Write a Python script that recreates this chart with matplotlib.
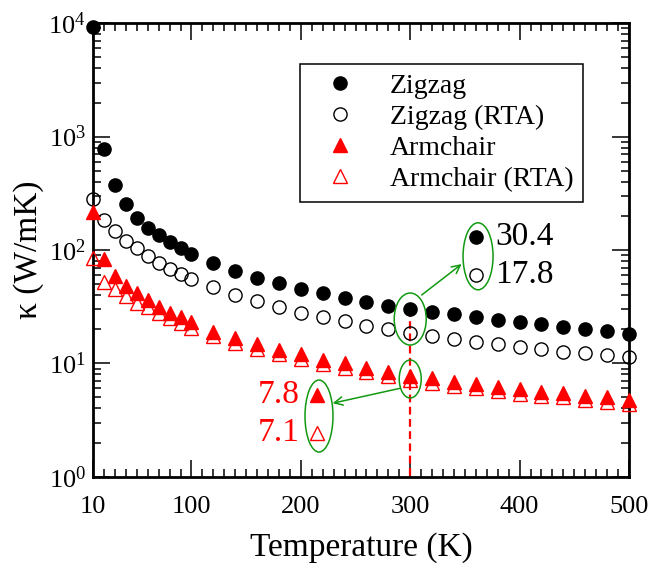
import matplotlib
matplotlib.use("Agg")
import matplotlib.pyplot as plt
from matplotlib.patches import Ellipse
from matplotlib.transforms import ScaledTranslation
from matplotlib.lines import Line2D
from matplotlib.ticker import FixedLocator, MultipleLocator, LogLocator, NullFormatter

# ---------------- data ----------------
temperature = [10, 20, 30, 40, 50, 60, 70, 80, 90, 100,
               120, 140, 160, 180, 200, 220, 240, 260, 280, 300,
               320, 340, 360, 380, 400, 420, 440, 460, 480, 500]
zigzag = [9300, 773, 372, 255, 190, 155, 136, 117, 105, 92,
          76.3, 65.3, 57.0, 50.8, 45.6, 42.0, 37.9, 35.0, 32.3, 30.4,
          28.6, 27.1, 25.5, 24.1, 23.2, 22.2, 20.9, 20.2, 19.3, 18.2]
zigzag_rta = [281, 184, 147, 121, 104, 89, 76.3, 67.6, 61.4, 55.2,
              47.2, 40.1, 35.5, 31.2, 28.0, 25.5, 23.6, 21.5, 20.1, 18.6,
              17.5, 16.4, 15.5, 14.7, 14.0, 13.4, 12.7, 12.3, 11.9, 11.3]
armchair = [216, 82.8, 59.0, 48.1, 41.5, 36.2, 31.6, 28.0, 25.5, 23.3,
            18.9, 16.6, 14.7, 13.1, 12.0, 10.7, 10.0, 9.16, 8.44, 7.8,
            7.38, 6.89, 6.57, 6.22, 5.90, 5.62, 5.44, 5.18, 5.02, 4.75]
armchair_rta = [85, 52.5, 45.0, 39.3, 34.3, 31.2, 28.0, 25.0, 22.8, 20.4,
                17.4, 15.1, 13.4, 12.0, 11.0, 9.8, 9.1, 8.4, 7.7, 7.1,
                6.75, 6.3, 6.0, 5.7, 5.4, 5.15, 5.0, 4.75, 4.6, 4.35]

labels = ["Zigzag", "Zigzag (RTA)", "Armchair", "Armchair (RTA)"]
x_ticks = [10, 100, 200, 300, 400, 500]
x_ticklabels = ["10", "100", "200", "300", "400", "500"]
y_ticks = [1, 10, 100, 1000, 10000]
y_ticklabels = [r"$\mathregular{10^{0}}$", r"$\mathregular{10^{1}}$", r"$\mathregular{10^{2}}$",
                r"$\mathregular{10^{3}}$", r"$\mathregular{10^{4}}$"]

# annotation values (highlighted at 300 K)
T_mark = 300
zz_values = ["30.4", "17.8"]
ac_values = ["7.8", "7.1"]
zz_inset_T, zz_inset_k = 360, [131, 60.2]
ac_inset_T, ac_inset_k = 215, [5.26, 2.43]
zz_text_T, ac_text_T = 378, 199
# ellipses: (T, kappa center, width in, height in)
ellipses = [(300, 24.6, 0.32, 0.52), (362, 88, 0.30, 0.67),
            (300, 7.28, 0.22, 0.38), (216.6, 3.43, 0.28, 0.72)]
arrows = [((310.5, 40.1), (347, 75.1)), ((290.6, 6.02), (229.1, 4.45))]

# ---------------- style ----------------
plt.rcParams['font.family'] = ['Liberation Serif', 'DejaVu Serif']
plt.rcParams['mathtext.fontset'] = 'custom'
plt.rcParams['mathtext.rm'] = 'Liberation Serif'
plt.rcParams['mathtext.default'] = 'regular'

green = '#119911'
fig = plt.figure(figsize=(6.53, 5.67), dpi=100)
ax = fig.add_axes([93/653, 1-476.7/567, (629-93)/653, (476.7-23.3)/567])

ms = 9.5
ax.plot(temperature, zigzag_rta, 'o', ms=ms, mfc='none', mec='black', mew=1.0, clip_on=False, zorder=3)
ax.plot(temperature, zigzag, 'o', ms=ms, mfc='black', mec='black', clip_on=False, zorder=4)
ax.plot(temperature, armchair_rta, '^', ms=ms, mfc='none', mec='red', mew=1.0, clip_on=False, zorder=3)
ax.plot(temperature, armchair, '^', ms=ms, mfc='red', mec='red', clip_on=False, zorder=4)

ax.set_xlim(10, 500)
ax.set_yscale('log')
ax.set_ylim(1, 1e4)

ax.xaxis.set_major_locator(FixedLocator(x_ticks))
ax.set_xticklabels(x_ticklabels)
ax.xaxis.set_minor_locator(MultipleLocator(10))
ax.yaxis.set_major_locator(FixedLocator(y_ticks))
ax.set_yticklabels(y_ticklabels)
ax.yaxis.set_minor_locator(LogLocator(base=10, subs=range(2, 10), numticks=20))
ax.yaxis.set_minor_formatter(NullFormatter())

ax.tick_params(which='both', direction='in', top=True, right=True, labelsize=19)
ax.tick_params(which='major', length=12, width=1.1)
ax.tick_params(which='minor', length=5.8, width=1.1)
ax.tick_params(axis='x', pad=14)
ax.tick_params(axis='y', pad=5)
for s in ax.spines.values():
    s.set_linewidth(2)

ax.set_xlabel("Temperature (K)", fontsize=24, labelpad=10)
ax.set_ylabel("κ (W/mK)", fontsize=24, labelpad=3)

# dashed marker line at 300 K
ax.plot([T_mark, T_mark], [float(zz_values[0]), 1], color='red', lw=1.6, ls=(0, (3.5, 2)), zorder=2)

# ellipses
for (t, k, w, h) in ellipses:
    tr = fig.dpi_scale_trans + ScaledTranslation(t, k, ax.transData)
    ax.add_patch(Ellipse((0, 0), w, h, transform=tr, fill=False, edgecolor=green, lw=1.1, zorder=5))

# arrows
for (start, end) in arrows:
    ax.annotate("", xy=end, xytext=start,
                arrowprops=dict(arrowstyle='->', color=green, lw=1.1, shrinkA=0, shrinkB=0,
                                mutation_scale=15), zorder=5)

# inset markers and value texts
ax.plot([zz_inset_T], [zz_inset_k[0]], 'o', ms=ms, mfc='black', mec='black', clip_on=False)
ax.plot([zz_inset_T], [zz_inset_k[1]], 'o', ms=ms, mfc='none', mec='black', mew=1.0, clip_on=False)
ax.plot([ac_inset_T], [ac_inset_k[0]], '^', ms=ms, mfc='red', mec='red', clip_on=False)
ax.plot([ac_inset_T], [ac_inset_k[1]], '^', ms=ms, mfc='none', mec='red', mew=1.0, clip_on=False)
for val, k in zip(zz_values, zz_inset_k):
    ax.text(zz_text_T, k, val, fontsize=24, color='black', ha='left', va='center')
for val, k in zip(ac_values, ac_inset_k):
    ax.text(ac_text_T, k, val, fontsize=24, color='red', ha='right', va='center')

# legend
handles = [
    Line2D([], [], ls='none', marker='o', ms=ms, mfc='black', mec='black'),
    Line2D([], [], ls='none', marker='o', ms=ms, mfc='none', mec='black', mew=1.0),
    Line2D([], [], ls='none', marker='^', ms=ms, mfc='red', mec='red'),
    Line2D([], [], ls='none', marker='^', ms=ms, mfc='none', mec='red', mew=1.0),
]
leg = ax.legend(handles, labels, loc='upper left', bbox_to_anchor=((300-93)/536, (476.7-64)/453.4),
                fontsize=20, frameon=True, fancybox=False, shadow=False, borderpad=0.35,
                handlelength=2.2, handletextpad=0.68, labelspacing=0.2, borderaxespad=0,
                numpoints=1)
leg.get_frame().set_edgecolor('black')
leg.get_frame().set_linewidth(1.1)
leg.get_frame().set_alpha(1)

fig.savefig("out.png", dpi=100)
